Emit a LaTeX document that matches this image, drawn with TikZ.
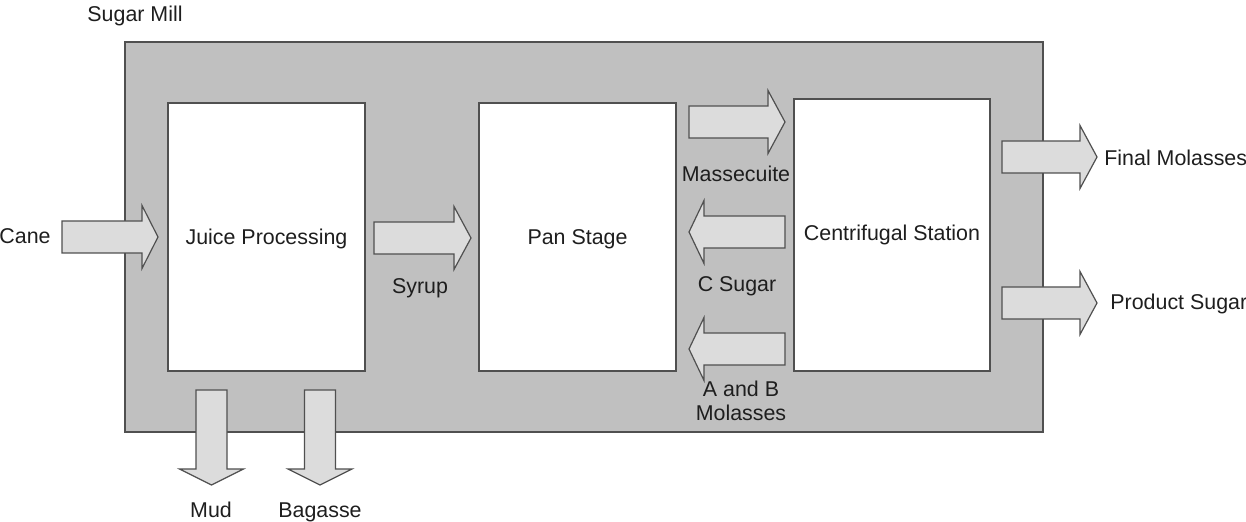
\documentclass[tikz,border=0pt]{standalone}
\usepackage{fontspec}
\setmainfont{Liberation Sans}
\definecolor{millgray}{HTML}{C0C0C0}
\definecolor{arrowgray}{HTML}{DCDCDC}
\definecolor{edgegray}{HTML}{505050}
\definecolor{txt}{HTML}{1E1E1E}
\newcommand\hblockarrow[4]{\draw[blockarrow] (#1,{#4-16})--(#2,{#4-16})--(#2,{#4-31.5})--(#3,#4)--(#2,{#4+31.5})--(#2,{#4+16})--(#1,{#4+16})--cycle;}
\newcommand\vblockarrow[4]{\draw[blockarrow] ({#1-15.5},#2)--({#1+15.5},#2)--({#1+15.5},#3)--({#1+32},#3)--(#1,#4)--({#1-32},#3)--({#1-15.5},#3)--cycle;}
\begin{document}
\begin{tikzpicture}[x=0.5pt,y=-0.5pt,
  every node/.style={font=\fontsize{10.7}{12}\selectfont, text=txt, inner sep=0pt},
  stagebox/.style={draw=edgegray, line width=0.75pt, fill=white},
  millbox/.style={draw=edgegray, line width=0.75pt, fill=millgray},
  blockarrow/.style={draw=edgegray, line width=0.6pt, fill=arrowgray, line join=miter},
  lbl/.style={anchor=base}]
\useasboundingbox (0,0) rectangle (1246,522);
% mill
\draw[millbox] (125,42) rectangle (1043,432);
\node[lbl] (mill) at (135,22) {Sugar Mill};
% stages
\draw[stagebox] (168,103) rectangle (365,371);
\draw[stagebox] (479,103) rectangle (676,371);
\draw[stagebox] (794,99) rectangle (990,371);
\node[lbl] (juice) at (266.5,245) {Juice Processing};
\node[lbl] (pan) at (577.5,245) {Pan Stage};
\node[lbl] (centri) at (892,241) {Centrifugal Station};
% arrows
\hblockarrow{62}{142}{158}{237}
\hblockarrow{374}{454}{471}{238}
\hblockarrow{689}{768}{785}{122}
\hblockarrow{785}{704}{689}{232}
\hblockarrow{785}{704}{689}{349}
\hblockarrow{1002}{1080}{1097}{157}
\hblockarrow{1002}{1080}{1097}{303}
\vblockarrow{211.5}{390}{469}{485}
\vblockarrow{320}{390}{469}{485}
% labels
\node[lbl] (cane) at (25,244) {Cane};
\node[lbl] (syrup) at (420,294) {Syrup};
\node[lbl] (masse) at (736,182) {Massecuite};
\node[lbl] (csugar) at (737,292) {C Sugar};
\node[lbl] (ab) at (741,397) {A and B};
\node[lbl] (abm) at (741,421) {Molasses};
\node[anchor=base west] (finalm) at (1104,166) {Final Molasses};
\node[anchor=base west] (prods) at (1110,310) {Product Sugar};
\node[lbl] (mud) at (211,518) {Mud};
\node[lbl] (bag) at (320,518) {Bagasse};
\end{tikzpicture}
\end{document}
